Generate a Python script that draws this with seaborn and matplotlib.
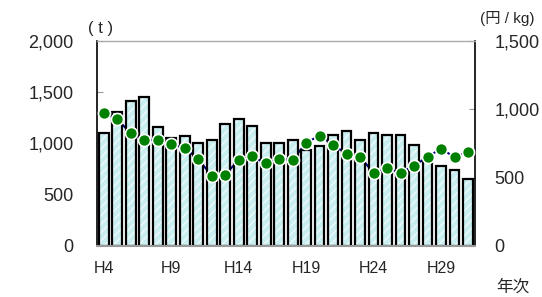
import numpy as np
import pandas as pd
import matplotlib
matplotlib.use('Agg')
import matplotlib.pyplot as plt
import seaborn as sns

# =========================
# DANE
# =========================

years = ['H' + str(i) for i in range(4, 32)]

volume_t = [1100, 1310, 1418, 1457, 1164, 1057, 1073, 1002, 1034, 1190,
            1236, 1174, 1002, 1002, 1030, 937, 979, 1083, 1122, 1034,
            1100, 1080, 1080, 985, 835, 782, 741, 652]

price_yen = [975, 927, 824, 776, 776, 746, 715, 637, 512, 522,
             629, 655, 605, 637, 629, 756, 807, 739, 673, 654,
             532, 568, 537, 585, 654, 710, 651, 688]

left_ticks = [0, 500, 1000, 1500, 2000]
right_ticks = [0, 500, 1000, 1500]

df = pd.DataFrame({'year': years, 'volume': volume_t, 'price': price_yen})
df['pos'] = np.arange(len(df))

# =========================
# STYL
# =========================

sns.set_style('white')
plt.rcParams['font.family'] = ['Liberation Sans', 'Noto Sans CJK JP']

fig = plt.figure(figsize=(5.42, 2.97), dpi=100)

# line (behind bars), bars, dots (on top)
ax_line = fig.add_axes([0.179, 0.172, 0.697, 0.690])
ax = ax_line.twinx()
ax_dot = ax_line.twinx()
ax_line.set_zorder(1)
ax.set_zorder(2)
ax_dot.set_zorder(3)
ax.patch.set_visible(False)
ax_dot.patch.set_visible(False)

# bars: hatched fill first, then black outline
sns.barplot(data=df, x='year', y='volume', order=years, ax=ax,
            color='#c9eef0', saturation=1, width=0.72,
            edgecolor='#eefafa', linewidth=0, hatch='////')
sns.barplot(data=df, x='year', y='volume', order=years, ax=ax,
            fill=False, width=0.72, edgecolor='black', linewidth=1.6)

sns.lineplot(data=df, x='pos', y='price', ax=ax_line, color='#000080',
             linewidth=1.5)
sns.scatterplot(data=df, x='pos', y='price', ax=ax_dot, color='#008000',
                s=75, edgecolor='white', linewidth=1.2, zorder=5)

n = len(years)
for a in (ax, ax_line, ax_dot):
    a.set_xlim(-0.5, n - 0.5)
    a.set_xlabel('')
    a.set_ylabel('')

ax.set_ylim(0, 2000)
ax_line.set_ylim(0, 1500)
ax_dot.set_ylim(0, 1500)

# left axis (volume) -> move to left side
ax.yaxis.set_ticks_position('left')
ax.yaxis.set_label_position('left')
ax.set_yticks(left_ticks)
ax.set_yticklabels([f'{v:,}' for v in left_ticks], fontsize=13)
ax.tick_params(axis='y', direction='in', length=4, color='#999999', pad=17,
               left=True, right=False, labelleft=True, labelright=False)

# right axis (price)
ax_line.yaxis.set_ticks_position('right')
ax_line.set_yticks(right_ticks)
ax_line.set_yticklabels([f'{v:,}' for v in right_ticks], fontsize=13)
ax_line.tick_params(axis='y', direction='in', length=4, color='#999999', pad=14,
                    left=False, right=True, labelleft=False, labelright=True)

ax_dot.set_yticks([])

# x tick labels: shared ticker, shown by the base axes
ax_line.set_xticks(range(n))
ax_line.set_xticklabels([y if i % 5 == 0 else '' for i, y in enumerate(years)],
                        fontsize=11.5)
ax_line.tick_params(axis='x', length=0, pad=11)

for a in (ax_line, ax_dot):
    for s in a.spines.values():
        s.set_visible(False)

ax.spines['left'].set_color('black')
ax.spines['left'].set_linewidth(1.2)
ax.spines['right'].set_color('black')
ax.spines['right'].set_linewidth(1.2)
ax.spines['top'].set_color('#aaaaaa')
ax.spines['top'].set_linewidth(1)
ax.spines['bottom'].set_color('#999999')
ax.spines['bottom'].set_linewidth(1.5)

fig.text(101 / 542, 1 - 28 / 297, '( t )', ha='center', va='center', fontsize=12)
fig.text(507 / 542, 1 - 19 / 297, '(円 / kg)', ha='center', va='center', fontsize=11)
fig.text(513 / 542, 1 - 287 / 297, '年次', ha='center', va='center', fontsize=12)

fig.savefig('out.png', dpi=100)
